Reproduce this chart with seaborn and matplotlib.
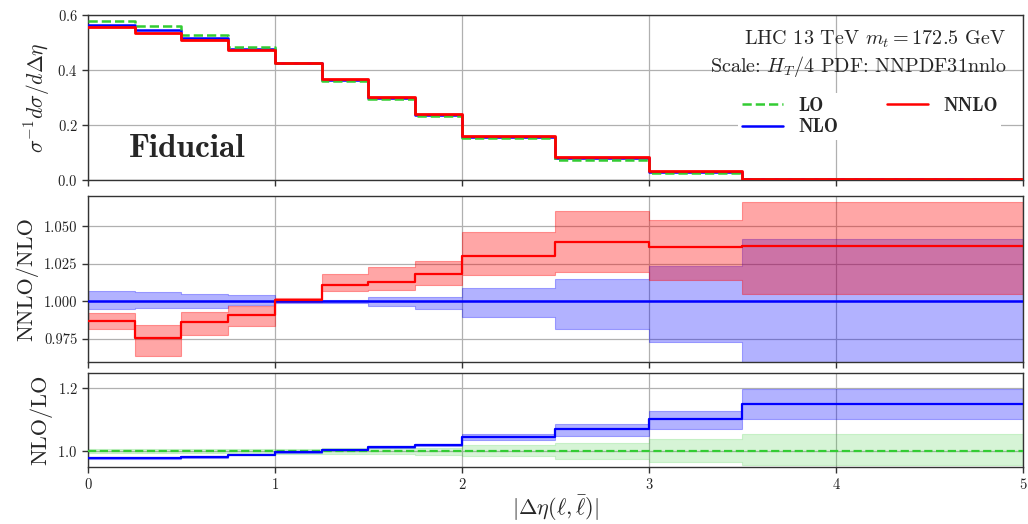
import numpy as np
import matplotlib
matplotlib.use("Agg")
import matplotlib.pyplot as plt
import seaborn as sns

# Bin edges in |Delta eta(l, lbar)|
edges = np.array([0.0, 0.25, 0.5, 0.75, 1.0, 1.25, 1.5, 1.75, 2.0, 2.5, 3.0, 3.5, 5.0])

# Normalised distributions
dist_lo = [0.577, 0.560, 0.528, 0.482, 0.425, 0.361, 0.295, 0.231, 0.152, 0.072, 0.026, 0.004]
dist_nlo = [0.565, 0.546, 0.518, 0.476, 0.425, 0.364, 0.299, 0.236, 0.156, 0.079, 0.030, 0.005]
dist_nnlo = [0.558, 0.534, 0.510, 0.472, 0.425, 0.366, 0.302, 0.240, 0.159, 0.082, 0.031, 0.005]

# NNLO / NLO ratio with scale bands
r_nnlo = [0.987, 0.976, 0.9863, 0.991, 1.0013, 1.0113, 1.0131, 1.018, 1.0302, 1.0395, 1.0366, 1.037]
r_nnlo_lo = [0.982, 0.9634, 0.978, 0.9838, 0.9995, 1.0073, 1.0078, 1.0113, 1.0176, 1.0195, 1.0144, 1.0051]
r_nnlo_hi = [0.9923, 0.9845, 0.993, 0.9967, 1.0025, 1.0186, 1.0233, 1.0273, 1.046, 1.060, 1.0541, 1.0665]
r_nlo = [1.0] * 12
r_nlo_lo = [0.9951, 0.9956, 0.9956, 0.9978, 0.999, 0.999, 0.9967, 0.995, 0.9894, 0.9816, 0.9727, 0.955]
r_nlo_hi = [1.0067, 1.006, 1.0053, 1.0043, 1.001, 1.001, 1.0033, 1.0033, 1.0093, 1.0149, 1.0237, 1.0415]

# NLO / LO ratio with scale bands
k_nlo = [0.978, 0.978, 0.982, 0.9894, 0.996, 1.005, 1.0138, 1.021, 1.0436, 1.069, 1.101, 1.149]
k_nlo_lo = [0.976, 0.976, 0.980, 0.987, 0.994, 1.003, 1.011, 1.018, 1.034, 1.0489, 1.070, 1.101]
k_nlo_hi = [0.980, 0.980, 0.984, 0.992, 0.998, 1.007, 1.017, 1.024, 1.053, 1.0872, 1.129, 1.198]
k_lo = [1.0] * 12
k_lo_lo = [0.993, 0.993, 0.993, 0.992, 0.992, 0.991, 0.990, 0.989, 0.985, 0.9766, 0.966, 0.955]
k_lo_hi = [1.007, 1.007, 1.007, 1.008, 1.008, 1.009, 1.010, 1.011, 1.021, 1.0266, 1.038, 1.054]

sns.set_theme(style="ticks")
plt.rcParams.update({
    "font.family": "serif",
    "font.serif": ["cmr10", "DejaVu Serif"],
    "mathtext.fontset": "cm",
    "axes.formatter.use_mathtext": True,
    "axes.unicode_minus": False,
    "axes.edgecolor": "#333333",
    "axes.linewidth": 1.0,
    "xtick.direction": "out",
    "ytick.direction": "out",
    "xtick.color": "#333333",
    "ytick.color": "#333333",
    "xtick.labelcolor": "#222222",
    "ytick.labelcolor": "#222222",
})

GREEN = "#33cc33"
BLUE = "#0000ff"
RED = "#ff0000"


def closed(vals):
    return np.append(np.asarray(vals, float), vals[-1])


def step(ax, vals, color, ls="-", lw=1.8, z=3):
    sns.lineplot(x=edges, y=closed(vals), drawstyle="steps-post", color=color,
                 linestyle=ls, linewidth=lw, ax=ax, zorder=z, legend=False)


def band(ax, lo, hi, color, alpha):
    ax.fill_between(edges, closed(lo), closed(hi), step="post", color=color,
                    alpha=alpha, linewidth=0.8, zorder=2)


fig = plt.figure(figsize=(10.28, 5.24), dpi=100)
L, W = 0.0856, 0.9095
ax1 = fig.add_axes([L, 0.6565, W, 0.3149])
ax2 = fig.add_axes([L, 0.3092, W, 0.3168])
ax3 = fig.add_axes([L, 0.1088, W, 0.1794])

# Top: normalised distributions
step(ax1, dist_nlo, BLUE, lw=1.8, z=3)
step(ax1, dist_lo, GREEN, ls="--", lw=1.8, z=4)
step(ax1, dist_nnlo, RED, lw=2.0, z=5)
ax1.set_ylim(0, 0.6)
ax1.set_yticks([0.0, 0.2, 0.4, 0.6])
ax1.set_ylabel(r"$\sigma^{-1}d\sigma/d\Delta\eta$", fontsize=15.5)
ax1.text(0.106, 0.19, "Fiducial", transform=ax1.transAxes, fontsize=24,
         family="cmb10", ha="center", va="center")
ax1.text(0.982, 0.85, r"LHC 13 TeV $m_t = 172.5$ GeV", transform=ax1.transAxes,
         ha="right", va="center", fontsize=14.5)
ax1.text(0.982, 0.69, r"Scale: $H_T/4$ PDF: NNPDF31nnlo", transform=ax1.transAxes,
         ha="right", va="center", fontsize=14.5)

handles = [
    plt.Line2D([], [], color=GREEN, ls="--", lw=1.8),
    plt.Line2D([], [], color=BLUE, lw=1.8),
    plt.Line2D([], [], color=RED, lw=1.8),
]
ax1.legend(handles, ["LO", "NLO", "NNLO"], ncol=2, loc="center right",
           bbox_to_anchor=(0.987, 0.385), frameon=True, facecolor="white",
           edgecolor="none", framealpha=1.0, fancybox=False,
           prop={"family": "cmb10", "size": 13.5}, handlelength=2.2,
           columnspacing=2.6, labelspacing=0.2, borderpad=0.2)

# Middle: NNLO / NLO
band(ax2, r_nlo_lo, r_nlo_hi, BLUE, 0.3)
band(ax2, r_nnlo_lo, r_nnlo_hi, RED, 0.35)
step(ax2, r_nlo, BLUE, lw=1.8, z=4)
step(ax2, r_nnlo, RED, lw=1.6, z=5)
ax2.set_ylim(0.9597, 1.0703)
ax2.set_yticks([0.975, 1.000, 1.025, 1.050])
ax2.set_yticklabels(["0.975", "1.000", "1.025", "1.050"])
ax2.set_ylabel("NNLO/NLO", fontsize=16)

# Bottom: NLO / LO
band(ax3, k_lo_lo, k_lo_hi, GREEN, 0.2)
band(ax3, k_nlo_lo, k_nlo_hi, BLUE, 0.3)
step(ax3, k_lo, GREEN, ls="--", lw=1.6, z=4)
step(ax3, k_nlo, BLUE, lw=1.6, z=5)
ax3.set_ylim(0.95, 1.248)
ax3.set_yticks([1.0, 1.2])
ax3.set_ylabel("NLO/LO", fontsize=16)
ax3.set_xlabel(r"$|\Delta\eta(\ell,\bar{\ell})|$", fontsize=16, labelpad=1)

for ax in (ax1, ax2, ax3):
    ax.set_xlim(0, 5)
    ax.set_xticks([0, 1, 2, 3, 4, 5])
    ax.grid(True, color="#b0b0b0", linewidth=0.9)
    ax.set_axisbelow(True)
    ax.tick_params(labelsize=10.5, length=4, width=1)
    for s in ax.spines.values():
        s.set_visible(True)
for ax in (ax1, ax2):
    ax.tick_params(labelbottom=False)
    ax.set_xlabel("")

fig.align_ylabels([ax1, ax2, ax3])
fig.savefig("out.png", dpi=100)
